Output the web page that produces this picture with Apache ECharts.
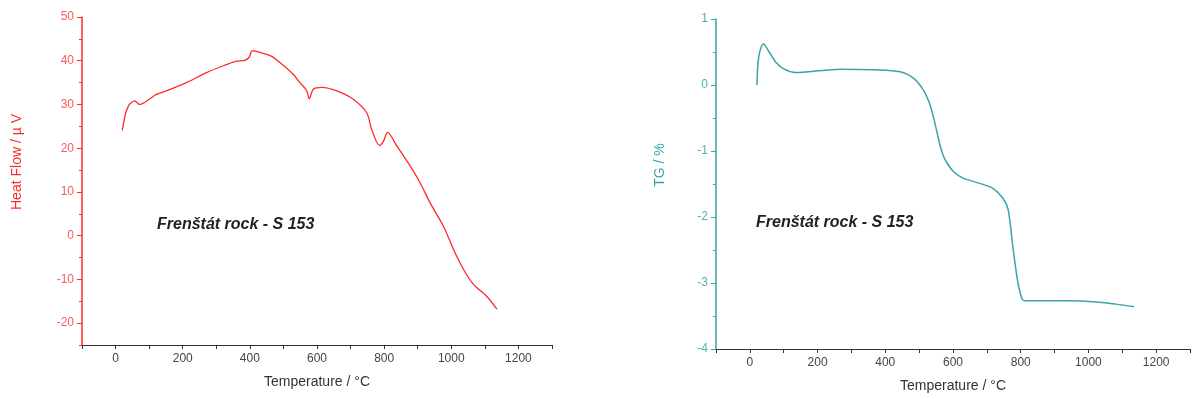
<!DOCTYPE html>
<html>
<head>
<meta charset="utf-8">
<script src="https://cdn.jsdelivr.net/npm/echarts@6/dist/echarts.min.js"></script>
<style>
html,body{margin:0;padding:0;background:#fff;}
#c{width:1192px;height:399px;}
</style>
</head>
<body>
<div id="c"></div>
<script>
// Heat flow (DTA) curve: temperature (°C) and heat flow (µV)
const dtaTemp = [20, 30, 40, 47, 57, 72, 85, 101, 121, 151, 211, 271, 330, 360, 385, 398, 407, 430, 465, 500, 529, 549, 569, 577, 589, 614, 659, 708, 748, 763, 786, 798, 810, 838, 878, 907, 937, 977, 1007, 1037, 1067, 1106, 1136];
const dtaHeat = [24.1, 28.0, 29.9, 30.4, 30.8, 30.0, 30.4, 31.2, 32.3, 33.1, 35.0, 37.3, 39.1, 39.9, 40.1, 40.8, 42.3, 41.9, 41.0, 38.9, 36.9, 35.0, 33.2, 31.3, 33.5, 33.9, 33.1, 31.2, 28.1, 24.3, 20.6, 21.6, 23.6, 20.5, 15.9, 12.1, 7.5, 2.1, -3.2, -7.8, -11.2, -13.9, -16.8];

// TG curve: temperature (°C) and mass change (%)
const tgTemp = [21, 24, 30, 40, 57, 76, 101, 135, 170, 268, 366, 444, 484, 513, 530, 542, 552, 562, 572, 581, 601, 630, 679, 719, 748, 763, 778, 792, 805, 817, 934, 1032, 1081, 1135];
const tgMass = [0.0, 0.33, 0.52, 0.62, 0.50, 0.35, 0.24, 0.19, 0.20, 0.24, 0.23, 0.20, 0.10, -0.08, -0.27, -0.48, -0.70, -0.92, -1.08, -1.17, -1.31, -1.41, -1.49, -1.57, -1.72, -1.89, -2.5, -3.0, -3.25, -3.27, -3.27, -3.29, -3.32, -3.36];

const xLabels = [0, 200, 400, 600, 800, 1000, 1200];
const dtaLabels = [-20, -10, 0, 10, 20, 30, 40, 50];
const tgLabels = [-4, -3, -2, -1, 0, 1];

const sampleName = 'Frenštát rock - S 153';
const xName = 'Temperature / °C';
const dtaName = 'Heat Flow / µ V';
const tgName = 'TG / %';

const RED = '#ff2a2a';
const RED_L = '#ff5a5a';
const TEAL = '#3aa5a5';
const TEAL_L = '#4fb0b0';
const FONT = '"Liberation Sans", Arial, sans-serif';

function zip(a, b) { return a.map((v, i) => [v, b[i]]); }

function xAxis(grid) {
  return {
    type: 'value', gridIndex: grid, min: -100, max: 1300, interval: 100,
    name: xName, nameLocation: 'middle', nameGap: 30,
    nameTextStyle: { color: '#333', fontFamily: FONT, fontSize: 14 },
    axisLine: { onZero: false, lineStyle: { color: '#333', width: 1 } },
    axisTick: { inside: false, length: 4, lineStyle: { color: '#333' } },
    axisLabel: { customValues: xLabels, color: '#444', fontFamily: FONT, fontSize: 12, margin: 8, formatter: v => String(v) },
    splitLine: { show: false }
  };
}

function yMajor(grid, min, max, labels, colLine, colLab) {
  return {
    type: 'value', gridIndex: grid, min: min, max: max, position: 'left',
    axisLine: { show: true, onZero: false, lineStyle: { color: colLine, width: 1.5 } },
    axisTick: { customValues: labels, length: 5, lineStyle: { color: colLine } },
    axisLabel: { customValues: labels, color: colLab, fontFamily: FONT, fontSize: 12, margin: 8, formatter: v => String(v) },
    splitLine: { show: false }
  };
}
function yMinor(grid, min, max, interval, colLine) {
  return {
    type: 'value', gridIndex: grid, min: min, max: max, interval: interval, position: 'left',
    axisLine: { show: false, onZero: false },
    axisTick: { show: true, length: 3, lineStyle: { color: colLine } },
    axisLabel: { show: false },
    splitLine: { show: false }
  };
}

const chart = echarts.init(document.getElementById('c'), null, { renderer: 'canvas' });
chart.setOption({
  animation: false,
  backgroundColor: '#ffffff',
  grid: [
    { left: 82, right: 640, top: 17, bottom: 54 },
    { left: 716, right: 2, top: 19, bottom: 50 }
  ],
  xAxis: [xAxis(0), xAxis(1)],
  yAxis: [
    yMajor(0, -25, 50, dtaLabels, RED, RED_L),
    yMinor(0, -25, 50, 5, RED),
    yMajor(1, -4, 1, tgLabels, TEAL, TEAL_L),
    yMinor(1, -4, 1, 0.5, TEAL)
  ],
  graphic: [
    { type: 'text', x: 17, y: 162, rotation: Math.PI / 2,
      style: { text: dtaName, fill: RED, font: '14px ' + FONT, textAlign: 'center', textVerticalAlign: 'middle' } },
    { type: 'text', x: 660, y: 165, rotation: Math.PI / 2,
      style: { text: tgName, fill: TEAL, font: '14px ' + FONT, textAlign: 'center', textVerticalAlign: 'middle' } },
    { type: 'text', x: 157, y: 225,
      style: { text: sampleName, fill: '#222', font: 'italic bold 16px ' + FONT, textAlign: 'left', textVerticalAlign: 'middle' } },
    { type: 'text', x: 756, y: 223,
      style: { text: sampleName, fill: '#222', font: 'italic bold 16px ' + FONT, textAlign: 'left', textVerticalAlign: 'middle' } }
  ],
  series: [
    { type: 'line', xAxisIndex: 0, yAxisIndex: 0, data: zip(dtaTemp, dtaHeat), smooth: 0.3, showSymbol: false,
      lineStyle: { color: RED, width: 1.3 } },
    { type: 'line', xAxisIndex: 1, yAxisIndex: 2, data: zip(tgTemp, tgMass), smooth: 0.3, showSymbol: false,
      lineStyle: { color: TEAL, width: 1.5 } }
  ]
});
</script>
</body>
</html>
